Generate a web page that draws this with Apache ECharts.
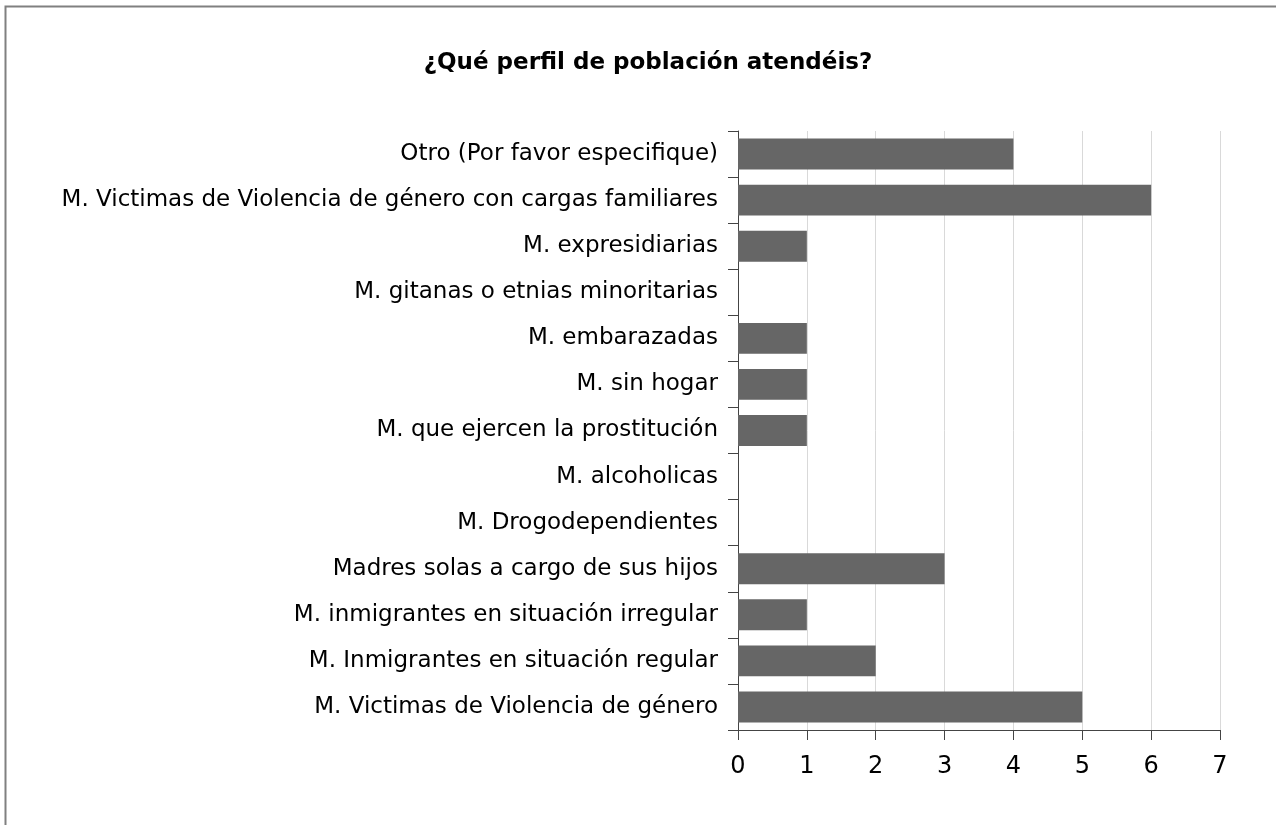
<!DOCTYPE html>
<html><head><meta charset="utf-8">
<script src="https://cdn.jsdelivr.net/npm/echarts@6/dist/echarts.min.js"></script>
<style>html,body{margin:0;padding:0;background:#fff}#c{width:1276px;height:825px}</style>
</head><body><div id="c"></div>
<script>
const categories = [
  "M. Victimas de Violencia de género",
  "M. Inmigrantes en situación regular",
  "M. inmigrantes en situación irregular",
  "Madres solas a cargo de sus hijos",
  "M. Drogodependientes",
  "M. alcoholicas",
  "M. que ejercen la prostitución",
  "M. sin hogar",
  "M. embarazadas",
  "M. gitanas o etnias minoritarias",
  "M. expresidiarias",
  "M. Victimas de Violencia de género con cargas familiares",
  "Otro (Por favor especifique)"
];
const values = [5, 2, 1, 3, 0, 0, 1, 1, 1, 0, 1, 6, 4];
const titleText = "¿Qué perfil de población atendéis?";
const font = "DejaVu Sans, Verdana, sans-serif";

const chart = echarts.init(document.getElementById('c'), null, {renderer: 'canvas'});
chart.setOption({
  animation: false,
  backgroundColor: '#ffffff',
  title: {
    text: titleText, left: 643, top: 47, textAlign: 'center',
    textStyle: {fontFamily: font, fontSize: 23, fontWeight: 'bold', color: '#000'}
  },
  graphic: [{
    type: 'rect', shape: {x: 5.5, y: 6.5, width: 1400, height: 1000},
    style: {fill: 'none', stroke: '#808080', lineWidth: 2}, silent: true
  }],
  grid: {left: 738, right: 56, top: 131, bottom: 95, containLabel: false},
  xAxis: {
    type: 'value', min: 0, max: 7, interval: 1,
    axisLine: {show: true, lineStyle: {color: '#444', width: 1}},
    axisTick: {show: true, length: 10, lineStyle: {color: '#444'}},
    axisLabel: {fontFamily: font, fontSize: 24, color: '#000', margin: 25},
    splitLine: {show: true, lineStyle: {color: '#d9d9d9', width: 1}}
  },
  yAxis: {
    type: 'category', data: categories,
    axisLine: {show: true, lineStyle: {color: '#444', width: 1}},
    axisTick: {show: true, length: 10, lineStyle: {color: '#444'}},
    axisLabel: {fontFamily: font, fontSize: 23, color: '#000', margin: 20}
  },
  series: [{
    type: 'bar', data: values, barCategoryGap: '33%',
    itemStyle: {color: '#666666'}
  }]
});
</script></body></html>
